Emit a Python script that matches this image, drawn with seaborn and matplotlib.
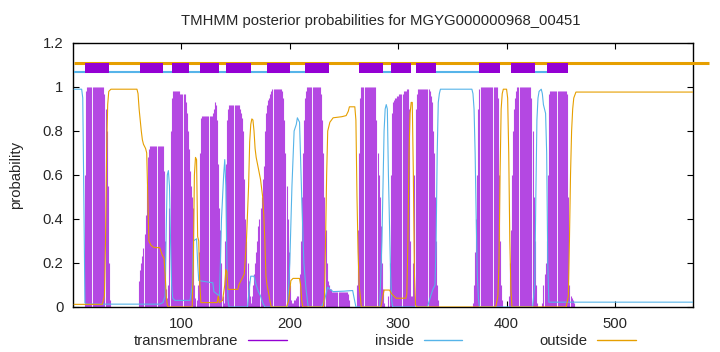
import numpy as np
import pandas as pd
import seaborn as sns
import matplotlib.pyplot as plt
from matplotlib.lines import Line2D

sns.set_style('ticks')
plt.rcParams['font.family'] = ['Liberation Sans', 'DejaVu Sans']
plt.rcParams['font.size'] = 10.7

title = 'TMHMM posterior probabilities for MGYG000000968_00451'
seq_len = 572

# transmembrane posterior per residue, one list per helix (first residue in tm_starts)
tm_starts = [11, 61, 89, 116, 140, 164, 208, 262, 291, 313, 369, 402, 433]
tm_humps = [
    [0.6, 0.98, 1, 1, 1, 1, 1, 1, 1, 1, 1, 1, 1, 1, 1, 1, 1, 1, 0.97, 0.9, 0.8, 0.55, 0.2, 0.03],
    [0.12, 0.17, 0.2, 0.23, 0.27, 0.33, 0.42, 0.55, 0.68, 0.72,
     0.73, 0.73, 0.73, 0.73, 0.73, 0.73, 0.73, 0.73, 0.73, 0.73, 0.73, 0.73, 0.73,
     0.62, 0.3, 0.08, 0.04, 0.1],
    [0.45, 0.8, 0.95, 0.98, 0.98, 0.98, 0.98, 0.98, 0.98, 0.98, 0.97, 0.97, 0.97, 0.97, 0.97,
     0.93, 0.88, 0.8, 0.72, 0.62, 0.55, 0.5, 0.45, 0.1, 0.04, 0.03, 0.1],
    [0.25, 0.7, 0.86, 0.87, 0.87, 0.87, 0.87, 0.87, 0.87, 0.87, 0.87, 0.87, 0.87,
     0.88, 0.9, 0.93, 0.92, 0.85, 0.65, 0.45, 0.35, 0.2, 0.05, 0.02],
    [0.3, 0.65, 0.85, 0.9, 0.92, 0.92, 0.92, 0.92, 0.92, 0.92, 0.92, 0.92, 0.92, 0.92,
     0.9, 0.88, 0.86, 0.8, 0.58, 0.4, 0.3, 0.2, 0.12, 0.05],
    [0.02, 0.05, 0.1, 0.15, 0.2, 0.25, 0.3, 0.37, 0.4, 0.45, 0.5, 0.58, 0.64, 0.8, 0.88,
     0.92, 0.94, 0.95, 0.97, 0.98, 0.99, 0.99, 0.99, 0.99, 0.99, 0.99, 0.99, 0.99, 0.99,
     0.98, 0.95, 0.85, 0.7, 0.55, 0.4, 0.25, 0.1, 0.03, 0.02, 0.02, 0.03, 0.03, 0.04, 0.05],
    [0.05, 0.15, 0.3, 0.5, 0.7, 0.85, 0.95, 0.98, 1, 1, 1, 1, 1, 1, 1, 1, 1, 1, 1, 1, 1,
     0.97, 0.85, 0.7, 0.5, 0.35, 0.2, 0.12, 0.1, 0.08, 0.08, 0.07, 0.07, 0.07, 0.07, 0.07,
     0.07, 0.07, 0.07, 0.07, 0.07, 0.07, 0.07, 0.07, 0.07, 0.07, 0.06, 0.03],
    [0.1, 0.35, 0.7, 0.95, 1, 1, 1, 1, 1, 1, 1, 1, 1, 1, 1, 1, 1, 1,
     0.85, 0.7, 0.6, 0.5, 0.37, 0.2, 0.08, 0.02],
    [0.05, 0.2, 0.6, 0.88, 0.93, 0.94, 0.95, 0.95, 0.96, 0.96, 0.97, 0.97, 0.97, 0.97,
     0.98, 0.98, 0.98, 0.99, 0.99, 0.9, 0.3, 0.05],
    [0.05, 0.2, 0.6, 0.9, 0.97, 0.99, 0.99, 0.99, 0.99, 0.99, 0.99, 0.99, 0.99, 0.99, 0.99, 0.99,
     0.98, 0.96, 0.93, 0.8, 0.7, 0.5, 0.3, 0.1, 0.03],
    [0.02, 0.1, 0.25, 0.4, 0.6, 0.9, 0.99, 1, 1, 1, 1, 1, 1, 1, 1, 1, 1, 1, 1, 1, 1, 1, 1,
     0.95, 0.6, 0.3, 0.1, 0.03],
    [0.05, 0.2, 0.35, 0.6, 0.8, 0.9, 0.95, 0.98, 1, 1, 1, 1, 1, 1, 1, 1, 1, 1, 1, 1, 1,
     0.95, 0.8, 0.5, 0.3, 0.1, 0.02],
    [0.02, 0.1, 0.15, 0.2, 0.3, 0.6, 0.97, 0.98, 0.98, 0.98, 0.98, 0.98, 0.98, 0.98, 0.98,
     0.98, 0.98, 0.98, 0.98, 0.98, 0.98, 0.98, 0.98, 0.97, 0.5, 0.1, 0.05, 0.04, 0.03, 0.02],
]

# inside probability, read at turning points
inside_pos = [1, 8, 9, 10, 11, 12, 80, 83, 85, 86, 87, 88, 89, 90, 91, 92, 94, 108, 110, 111, 114,
              115, 116, 129, 130, 135, 136, 137, 138, 139, 140, 141, 142, 143, 144, 161, 163, 164,
              167, 169, 171, 173, 175, 177, 198, 200, 202, 204, 206, 207, 209, 211, 213, 215, 217,
              229, 232, 234, 235, 237, 240, 250, 258, 259, 261, 283, 285, 287, 288, 289, 290, 291,
              293, 294, 295, 327, 330, 332, 334, 335, 336, 337, 338, 339, 368, 369, 370, 371, 372,
              373, 374, 375, 424, 426, 427, 428, 429, 430, 432, 433, 434, 436, 437, 438, 439, 572]
inside_prob = [0.99, 0.99, 0.95, 0.5, 0.02, 0.013, 0.013, 0.02, 0.05, 0.35, 0.6, 0.62, 0.55, 0.3,
               0.1, 0.04, 0.03, 0.03, 0.1, 0.3, 0.31, 0.2, 0.12, 0.11, 0.07, 0.05, 0.2, 0.4, 0.5,
               0.6, 0.67, 0.55, 0.2, 0.03, 0.0, 0.0, 0.1, 0.14, 0.14, 0.1, 0.07, 0.05, 0.02, 0.0,
               0.0, 0.2, 0.55, 0.8, 0.83, 0.86, 0.84, 0.5, 0.2, 0.08, 0.0, 0.0, 0.03, 0.07, 0.09,
               0.08, 0.07, 0.072, 0.075, 0.05, 0.0, 0.0, 0.3, 0.8, 0.9, 0.92, 0.9, 0.6, 0.15, 0.03,
               0.0, 0.0, 0.05, 0.08, 0.1, 0.3, 0.7, 0.93, 0.97, 0.99, 0.99, 0.97, 0.9, 0.7, 0.4,
               0.15, 0.04, 0.0, 0.0, 0.1, 0.5, 0.85, 0.95, 0.98, 0.99, 0.97, 0.92, 0.88, 0.7, 0.2,
               0.022, 0.022]

# outside probability, read at turning points
outside_pos = [1, 27, 29, 30, 31, 32, 33, 35, 59, 60, 61, 62, 63, 64, 65, 67, 68, 69, 70, 72, 75,
               80, 82, 84, 85, 86, 87, 88, 110, 111, 112, 113, 114, 115, 116, 117, 118, 133, 134,
               135, 138, 140, 141, 142, 143, 152, 153, 156, 158, 160, 162, 163, 164, 165, 166, 167,
               168, 169, 171, 173, 175, 176, 177, 178, 179, 180, 182, 183, 197, 199, 201, 203, 209,
               210, 211, 212, 231, 232, 233, 234, 235, 237, 240, 248, 252, 254, 255, 260, 261, 262,
               263, 264, 266, 284, 286, 287, 292, 294, 296, 298, 307, 308, 309, 310, 311, 312, 313,
               314, 315, 316, 317, 390, 392, 393, 394, 395, 396, 397, 400, 401, 402, 403, 404, 405,
               455, 457, 458, 459, 460, 461, 462, 464, 572]
outside_prob = [0.012, 0.012, 0.05, 0.3, 0.7, 0.92, 0.98, 0.99, 0.99, 0.97, 0.9, 0.85, 0.8, 0.76,
                0.74, 0.72, 0.7, 0.5, 0.3, 0.28, 0.27, 0.27, 0.24, 0.22, 0.15, 0.05, 0.01, 0.0,
                0.0, 0.2, 0.6, 0.68, 0.67, 0.32, 0.3, 0.1, 0.02, 0.02, 0.05, 0.02, 0.03, 0.1, 0.17,
                0.16, 0.08, 0.08, 0.1, 0.13, 0.15, 0.3, 0.55, 0.75, 0.83, 0.855, 0.85, 0.8, 0.72,
                0.68, 0.63, 0.58, 0.5, 0.42, 0.3, 0.14, 0.1, 0.077, 0.02, 0.0, 0.0, 0.03, 0.12,
                0.13, 0.13, 0.1, 0.03, 0.0, 0.0, 0.05, 0.3, 0.6, 0.8, 0.84, 0.86, 0.865, 0.87,
                0.89, 0.91, 0.91, 0.85, 0.5, 0.25, 0.1, 0.0, 0.0, 0.05, 0.077, 0.077, 0.06, 0.05,
                0.04, 0.04, 0.06, 0.3, 0.7, 0.88, 0.93, 0.93, 0.6, 0.15, 0.01, 0.0, 0.0, 0.05, 0.2,
                0.6, 0.9, 0.97, 0.99, 0.99, 0.95, 0.7, 0.3, 0.08, 0.0, 0.0, 0.05, 0.3, 0.6, 0.8,
                0.9, 0.95, 0.977, 0.977]

# predicted topology shown above the curves
helix_start = [11, 62, 91, 117, 141, 179, 214, 264, 293, 316, 375, 404, 437]
helix_end = [33, 83, 107, 135, 164, 200, 236, 286, 312, 335, 394, 426, 457]
inside_start = [1, 286, 335, 426]
inside_end = [236, 293, 375, 437]
outside_start = [1]
outside_end = [587]

x_ticks = [100, 200, 300, 400, 500]
y_ticks = [0, 0.2, 0.4, 0.6, 0.8, 1.0, 1.2]
y_tick_labels = ['0', '0.2', '0.4', '0.6', '0.8', '1', '1.2']

purple = '#9400D3'
blue = '#56B4E9'
orange = '#E69F00'

tm = np.zeros(seq_len)
for s, h in zip(tm_starts, tm_humps):
    tm[s - 1:s - 1 + len(h)] = h
residues = np.arange(1, seq_len + 1)

fig = plt.figure(figsize=(7.2, 3.52), dpi=100)
ax = fig.add_axes([73 / 720, 45 / 352, 620 / 720, 264 / 352])

ax.vlines(residues, 0, tm, color='#b448e2', lw=0.8, zorder=2)
sns.lineplot(x=inside_pos, y=inside_prob, color=blue, lw=0.8, ax=ax,
             estimator=None, sort=False, legend=False, zorder=3)
sns.lineplot(x=outside_pos, y=outside_prob, color=orange, lw=0.8, ax=ax,
             estimator=None, sort=False, legend=False, zorder=3)

# topology band
ax.hlines([1.107] * len(outside_start), outside_start, outside_end, color=orange, lw=2.2,
          zorder=3, clip_on=False)
ax.hlines([1.067] * len(inside_start), inside_start, inside_end, color=blue, lw=1.5, zorder=3)
ax.bar(helix_start, 0.048, width=np.subtract(helix_end, helix_start), bottom=1.063,
       align='edge', color=purple, linewidth=0, zorder=4)

ax.set_xlim(0, seq_len)
ax.set_ylim(0, 1.2)
ax.set_xticks(x_ticks, labels=[str(t) for t in x_ticks])
ax.set_yticks(y_ticks, labels=y_tick_labels)
ax.tick_params(direction='in', top=True, right=True, length=4, width=0.8, pad=7,
               labelsize=10.7, color='black')
for sp in ax.spines.values():
    sp.set_linewidth(1)
    sp.set_color('black')

fig.text(381 / 720, 1 - 21 / 352, title, ha='center', va='center', fontsize=10.7)
fig.text(16 / 720, 1 - 175 / 352, 'probability', rotation=90, ha='center', va='center',
         fontsize=10.7)

legend_names = ['transmembrane', 'inside', 'outside']
legend_colors = [purple, blue, orange]
legend_x = [134, 375, 539]
for name, col, lx in zip(legend_names, legend_colors, legend_x):
    h = Line2D([], [], color=col, lw=1)
    fig.legend([h], [name], loc='center left', bbox_to_anchor=(lx / 720, 11 / 352),
               frameon=False, markerfirst=False, handlelength=2.6, handletextpad=0.67,
               borderpad=0, borderaxespad=0, fontsize=10.7)

fig.savefig('out.png', dpi=100)
